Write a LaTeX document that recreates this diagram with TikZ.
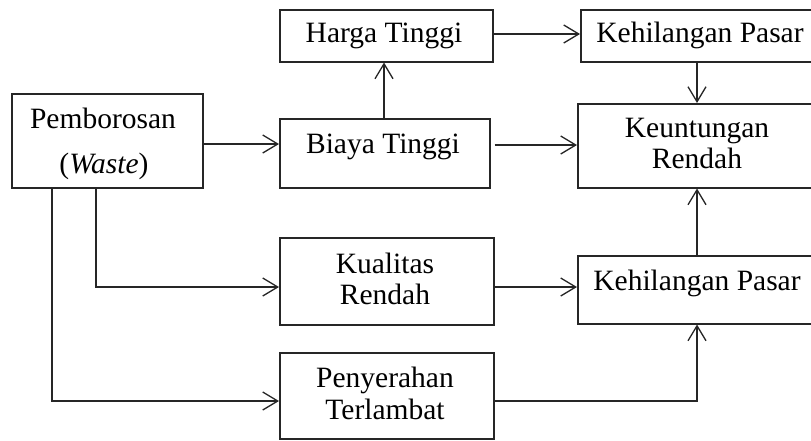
\documentclass[tikz,border=0pt]{standalone}
\usepackage{fontspec}
\setmainfont{Liberation Serif}
\usetikzlibrary{arrows.meta}
\begin{document}
\begin{tikzpicture}[x=1pt,y=-1pt,
  box/.style={draw=black!85,line width=1.5pt,inner sep=0pt},
  lbl/.style={anchor=base,inner sep=0pt,font=\fontsize{29.5}{32}\selectfont},
  flow/.style={draw=black!85,line width=1.5pt,-{Straight Barb[length=15pt,width=18pt,line width=1.3pt]}}]
\useasboundingbox (0,0) rectangle (811,440);
% boxes, placed by their upper left corners
\node[box,minimum width=191pt,minimum height=94pt,anchor=north west] (pem)   at (11,93)  {};
\node[box,minimum width=213pt,minimum height=52pt,anchor=north west] (harga) at (279,9)  {};
\node[box,minimum width=210pt,minimum height=69pt,anchor=north west] (biaya) at (279,118) {};
\node[box,minimum width=250pt,minimum height=52pt,anchor=north west] (kp1)   at (580,9)  {};
\node[box,minimum width=250pt,minimum height=84pt,anchor=north west] (keun)  at (577,103) {};
\node[box,minimum width=214pt,minimum height=87pt,anchor=north west] (kual)  at (279,237) {};
\node[box,minimum width=250pt,minimum height=68pt,anchor=north west] (kp2)   at (577,255) {};
\node[box,minimum width=214pt,minimum height=86pt,anchor=north west] (peny)  at (279,352) {};
% texts
\node[lbl] (t1)  at (103,128) {Pemborosan};
\node[lbl] (t2)  at (104,173) {(\textit{Waste})};
\node[lbl] (t3)  at (384,42)  {Harga Tinggi};
\node[lbl] (t4)  at (383,153) {Biaya Tinggi};
\node[lbl] (t5)  at (700,42)  {Kehilangan Pasar};
\node[lbl] (t6)  at (697,137) {Keuntungan};
\node[lbl] (t7)  at (697,168) {Rendah};
\node[lbl] (t8)  at (385,273) {Kualitas};
\node[lbl] (t9)  at (385,304) {Rendah};
\node[lbl] (t10) at (697,290) {Kehilangan Pasar};
\node[lbl] (t11) at (385,387) {Penyerahan};
\node[lbl] (t12) at (385,419) {Terlambat};
% connectors
\coordinate (c1) at (96,287);
\coordinate (c2) at (52,401);
\coordinate (c3) at (697,401);
\draw[flow] (pem.east |- 0,144) -- (biaya.west |- 0,144);
\draw[flow] (biaya.north -| 384,0) -- (harga.south -| 384,0);
\draw[flow] (harga.east |- 0,34) -- (kp1.west |- 0,34);
\draw[flow,shorten <=4pt] (biaya.east |- 0,145) -- (keun.west |- 0,145);
\draw[flow] (kp1.south -| 697,0) -- (keun.north -| 697,0);
\draw[flow] (pem.south -| c1) -- (c1) -- (kual.west |- c1);
\draw[flow] (pem.south -| c2) -- (c2) -- (peny.west |- c2);
\draw[flow] (kual.east |- 0,287) -- (kp2.west |- 0,287);
\draw[flow] (peny.east |- c3) -- (c3) -- (kp2.south -| c3);
\draw[flow] (kp2.north -| 697,0) -- (keun.south -| 697,0);
\end{tikzpicture}
\end{document}
